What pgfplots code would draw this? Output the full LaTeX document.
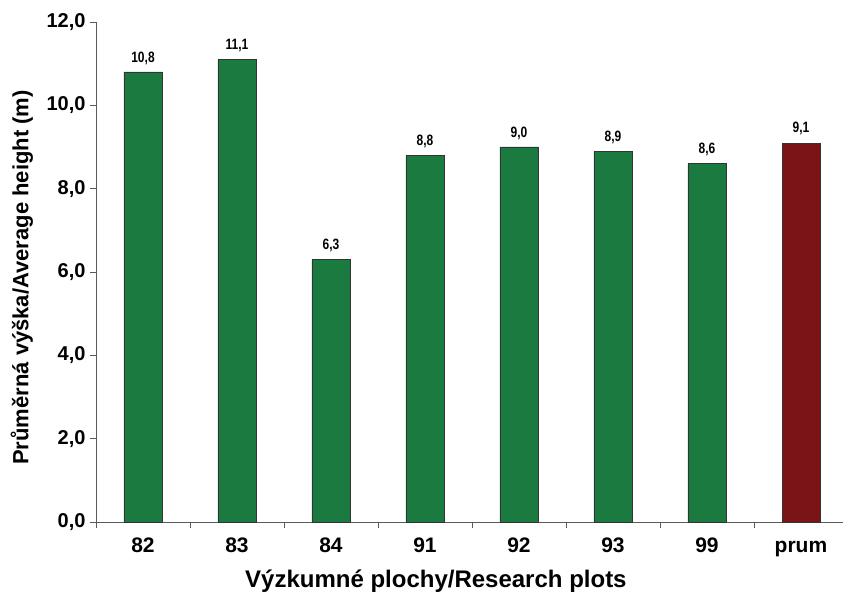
\documentclass[border=0pt]{standalone}
\usepackage{pgfplots}
\pgfplotsset{compat=1.18}
\usepackage{fontspec}
\setmainfont{Liberation Sans}
\definecolor{bargreen}{RGB}{27,122,64}
\definecolor{barred}{RGB}{122,20,22}
\definecolor{axgray}{RGB}{90,90,90}
\begin{document}
\begin{tikzpicture}
\path[use as bounding box] (-96pt,-75pt) rectangle (747pt,522pt);
\begin{axis}[
  scale only axis=true,
  width=747pt, height=500pt,
  xmin=-0.5, xmax=7.447,
  ymin=0, ymax=12,
  axis x line*=bottom, axis y line*=left,
  axis line style={axgray, line width=0.9pt},
  ytick={0,2,...,12},
  xtick={0,...,7},
  xticklabels={82,83,84,91,92,93,99,prum},
  minor xtick={-0.5,0.5,...,6.5},
  tick align=outside,
  major x tick style={draw=none},
  major y tick style={axgray, line width=0.9pt},
  minor x tick style={axgray, line width=0.9pt},
  major tick length=6pt, minor tick length=6pt,
  ybar, bar width=38pt,
  /pgf/number format/.cd, use comma, fixed, fixed zerofill, precision=1, assume math mode=true,
  /pgfplots/.cd,
  yticklabel style={font=\bfseries\fontsize{20}{24}\selectfont, xshift=-1pt},
  xticklabel style={font=\bfseries\fontsize{21}{25}\selectfont, text height=0.72em, text depth=0.22em, yshift=-14pt},
  ylabel={Průměrná výška/Average height (m)},
  xlabel={Výzkumné plochy/Research plots},
  ylabel style={font=\bfseries\fontsize{22}{26}\selectfont, at={(axis description cs:-0.0991,0.489)}, anchor=center},
  xlabel style={font=\bfseries\fontsize{24}{28}\selectfont, at={(axis description cs:0.455,0)}, anchor=center, yshift=-59pt},
  nodes near coords,
  every node near coord/.append style={font=\bfseries\fontsize{15}{18}\selectfont, xscale=0.8, black, yshift=4pt},
  clip=false,
]
\addplot[bar shift=0pt, fill=bargreen, draw=black!80, line width=0.6pt] coordinates {
  (0,10.8) (1,11.1) (2,6.3) (3,8.8) (4,9.0) (5,8.9) (6,8.6)
};
\addplot[bar shift=0pt, fill=barred, draw=black!80, line width=0.6pt] coordinates {
  (7,9.1)
};
\end{axis}
\end{tikzpicture}
\end{document}
